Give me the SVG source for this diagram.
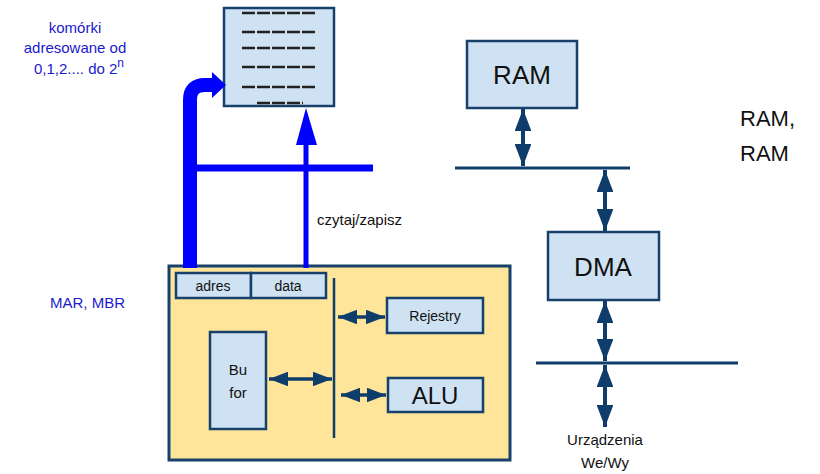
<svg xmlns="http://www.w3.org/2000/svg" width="820" height="474" viewBox="0 0 820 474">
<defs>
<style>
.box{fill:#cfe2f3;stroke:#17406b;stroke-width:2.5}
.cpu{fill:#ffe599;stroke:#17406b;stroke-width:3}
.dk{stroke:#0f3d6b;fill:none}
.ah{fill:#0f3d6b}
.blue{stroke:#0000ff;fill:none}
.bt{font-family:"Liberation Sans",Arial,sans-serif;fill:#1a1acc;font-size:15px}
.t{font-family:"Liberation Sans",Arial,sans-serif;fill:#111}
.n{font-family:"Liberation Sans",Arial,sans-serif;fill:#111}
.dash{stroke:#222;stroke-width:2.5;stroke-dasharray:13 2}
</style>
<marker id="ah" viewBox="0 0 10 10" refX="10" refY="5" markerWidth="5.5" markerHeight="4.2" preserveAspectRatio="none" orient="auto-start-reverse" markerUnits="strokeWidth">
<path d="M0,0 L10,5 L0,10 Z" class="ah"/>
</marker>
</defs>
<rect width="820" height="474" fill="#ffffff"/>

<g id="memory">
<rect x="224" y="8" width="110" height="98" class="box"/>
<line x1="242" y1="13" x2="317" y2="13" class="dash"/>
<line x1="242" y1="32" x2="317" y2="32" class="dash"/>
<line x1="242" y1="48" x2="317" y2="48" class="dash"/>
<line x1="242" y1="67" x2="317" y2="67" class="dash"/>
<line x1="242" y1="87" x2="317" y2="87" class="dash"/>
<line x1="257" y1="103" x2="303" y2="103" class="dash"/>
</g>

<g id="labels-left">
<text class="bt" x="75" y="33" text-anchor="middle">komórki</text>
<text class="bt" x="75" y="53" text-anchor="middle">adresowane od</text>
<text class="bt" x="79" y="74" text-anchor="middle">0,1,2.... do 2<tspan dy="-7" font-size="12">n</tspan></text>
<text class="bt" x="50" y="308">MAR, MBR</text>
</g>

<g id="cpu">
<rect x="169" y="266" width="341" height="194" class="cpu"/>
<line x1="334" y1="278" x2="334" y2="438" class="dk" stroke-width="2.5"/>
</g>
<g id="adres">
<rect x="176" y="273" width="75" height="25" class="box"/>
<text class="n" x="213" y="291" text-anchor="middle" font-size="14">adres</text>
</g>
<g id="data">
<rect x="251" y="273" width="75" height="25" class="box"/>
<text class="n" x="288" y="291" text-anchor="middle" font-size="14">data</text>
</g>
<g id="rejestry">
<rect x="387" y="298" width="96" height="35" class="box"/>
<text class="n" x="435" y="321" text-anchor="middle" font-size="14">Rejestry</text>
</g>
<g id="alu">
<rect x="388" y="378" width="95" height="34" class="box"/>
<text class="n" x="435" y="404" text-anchor="middle" font-size="24">ALU</text>
</g>
<g id="bufor">
<rect x="210" y="332" width="56" height="97" class="box"/>
<text class="n" x="238" y="375" text-anchor="middle" font-size="15">Bu</text>
<text class="n" x="238" y="398" text-anchor="middle" font-size="15">for</text>
</g>

<g id="ram">
<rect x="467" y="41" width="110" height="67" class="box"/>
<text class="t" x="522" y="84" text-anchor="middle" font-size="26">RAM</text>
</g>
<g id="dma">
<rect x="548" y="232" width="111" height="68" class="box"/>
<text class="t" x="603" y="276" text-anchor="middle" font-size="26">DMA</text>
</g>
<g id="io">
<text class="n" x="605" y="445" text-anchor="middle" font-size="15">Urządzenia</text>
<text class="n" x="605" y="468" text-anchor="middle" font-size="15">We/Wy</text>
</g>
<g id="note">
<text class="t" x="740" y="126" font-size="22">RAM,</text>
<text class="t" x="740" y="161" font-size="22">RAM</text>
</g>
<g id="rw-label">
<text class="n" x="317" y="225" font-size="15">czytaj/zapisz</text>
</g>

<g id="connectors">
<path d="M190,268 V100 Q190,85 205,85 H213" class="blue" stroke-width="14"/>
<polygon points="212,72 226,85 212,98" fill="#0000ff"/>
<line x1="183" y1="168" x2="373" y2="168" class="blue" stroke-width="7"/>
<line x1="306" y1="268" x2="306" y2="140" class="blue" stroke-width="5"/>
<polygon points="296,145 306,108 317,145" fill="#0000ff"/>

<line x1="338" y1="317" x2="385" y2="317" class="dk" stroke-width="3.5" marker-start="url(#ah)" marker-end="url(#ah)"/>
<line x1="269" y1="379" x2="332" y2="379" class="dk" stroke-width="3.5" marker-start="url(#ah)" marker-end="url(#ah)"/>
<line x1="341" y1="395" x2="386" y2="395" class="dk" stroke-width="3.5" marker-start="url(#ah)" marker-end="url(#ah)"/>

<line x1="455" y1="168" x2="630" y2="168" class="dk" stroke-width="3"/>
<line x1="536" y1="363" x2="738" y2="363" class="dk" stroke-width="3"/>
<line x1="523" y1="109" x2="523" y2="166" class="dk" stroke-width="4" marker-start="url(#ah)" marker-end="url(#ah)"/>
<line x1="605" y1="170" x2="605" y2="231" class="dk" stroke-width="4" marker-start="url(#ah)" marker-end="url(#ah)"/>
<line x1="605" y1="301" x2="605" y2="361" class="dk" stroke-width="4" marker-start="url(#ah)" marker-end="url(#ah)"/>
<line x1="605" y1="365" x2="605" y2="427" class="dk" stroke-width="4" marker-start="url(#ah)" marker-end="url(#ah)"/>
</g>
</svg>
